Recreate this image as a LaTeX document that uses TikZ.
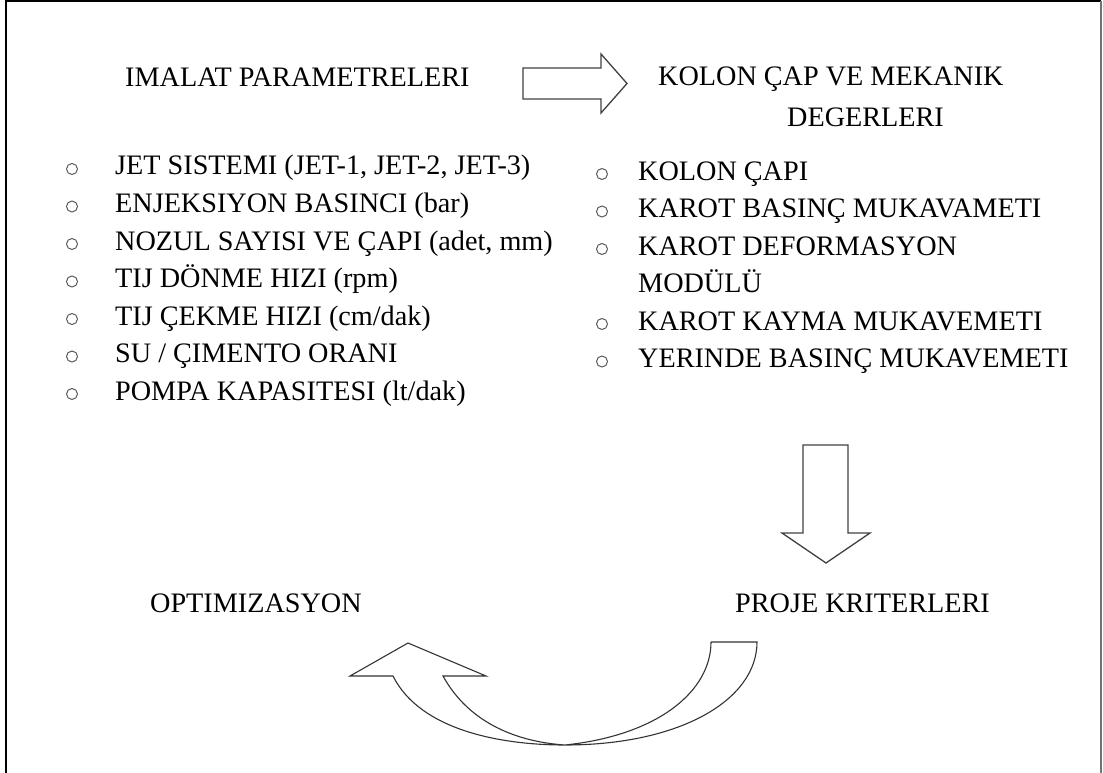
\documentclass[tikz,border=0pt]{standalone}
\usepackage{fontspec}
\setmainfont{Liberation Serif}
\begin{document}
\begin{tikzpicture}[x=1pt,y=-1pt,
  txt/.style={anchor=base west,inner sep=0pt,font=\fontsize{28.2}{37.5}\selectfont},
  bul/.style={circle,draw=black!65,line width=1pt,minimum size=11pt,inner sep=0pt},
  blockarrow/.style={draw=black!75,line width=1.3pt,line join=miter},
  frame/.style={line width=2pt}]
\useasboundingbox (0,0) rectangle (1103,773);
% frame
\draw[frame,black] (6,773) -- (6,1) -- (1101,1);
\draw[frame,black!55] (1101,1) -- (1101,773);
% titles
\node[txt] (imalat) at (125,87) {IMALAT PARAMETRELERI};
\node[txt] (kolon1) at (658,86) {KOLON ÇAP VE MEKANIK};
\node[txt] (kolon2) at (787,127) {DEGERLERI};
% top block arrow
\draw[blockarrow] (523,68) -- (601,68) -- (601,54) -- (627,83.5) -- (601,113) -- (601,99) -- (523,99) -- cycle;
% left list
\foreach \t [count=\i] in {JET SISTEMI (JET-1{,} JET-2{,} JET-3),ENJEKSIYON BASINCI (bar),NOZUL SAYISI VE ÇAPI (adet{,} mm),TIJ DÖNME HIZI (rpm),TIJ ÇEKME HIZI (cm/dak),SU / ÇIMENTO ORANI,POMPA KAPASITESI (lt/dak)}{
  \node[txt] (l\i) at (115,{175+37.5*(\i-1)}) {\t};
  \node[bul] (lb\i) at (72,{169+37.5*(\i-1)}) {};
}
% right list
\node[txt] (r1) at (638,180) {KOLON ÇAPI};
\node[txt] (r2) at (638,217.5) {KAROT BASINÇ MUKAVAMETI};
\node[txt] (r3) at (638,255) {KAROT DEFORMASYON};
\node[txt] (r3b) at (638,292.5) {MODÜLÜ};
\node[txt] (r4) at (638,330) {KAROT KAYMA MUKAVEMETI};
\node[txt] (r5) at (638,367.5) {YERINDE BASINÇ MUKAVEMETI};
\node[bul] (rb1) at (602,174) {};
\node[bul] (rb2) at (602,211.5) {};
\node[bul] (rb3) at (602,249) {};
\node[bul] (rb4) at (602,324) {};
\node[bul] (rb5) at (602,361.5) {};
% down block arrow
\draw[blockarrow] (803,445) -- (848,445) -- (848,533) -- (870,533) -- (826,563) -- (782,533) -- (803,533) -- cycle;
% bottom labels
\node[txt] (opt) at (150,612) {OPTIMIZASYON};
\node[txt] (proje) at (735,612) {PROJE KRITERLERI};
% curved block arrow
\draw[draw=black!80,line width=1.1pt,line join=miter]
  (711,642) -- (757,642)
  .. controls (757,700) and (680,745) .. (565,745)
  .. controls (500,745) and (420,730) .. (393,676)
  -- (350,676) -- (408,643) -- (486,676) -- (443,676)
  .. controls (470,725) and (520,742) .. (565,745)
  .. controls (660,735) and (711,690) .. (711,642);
\end{tikzpicture}
\end{document}
